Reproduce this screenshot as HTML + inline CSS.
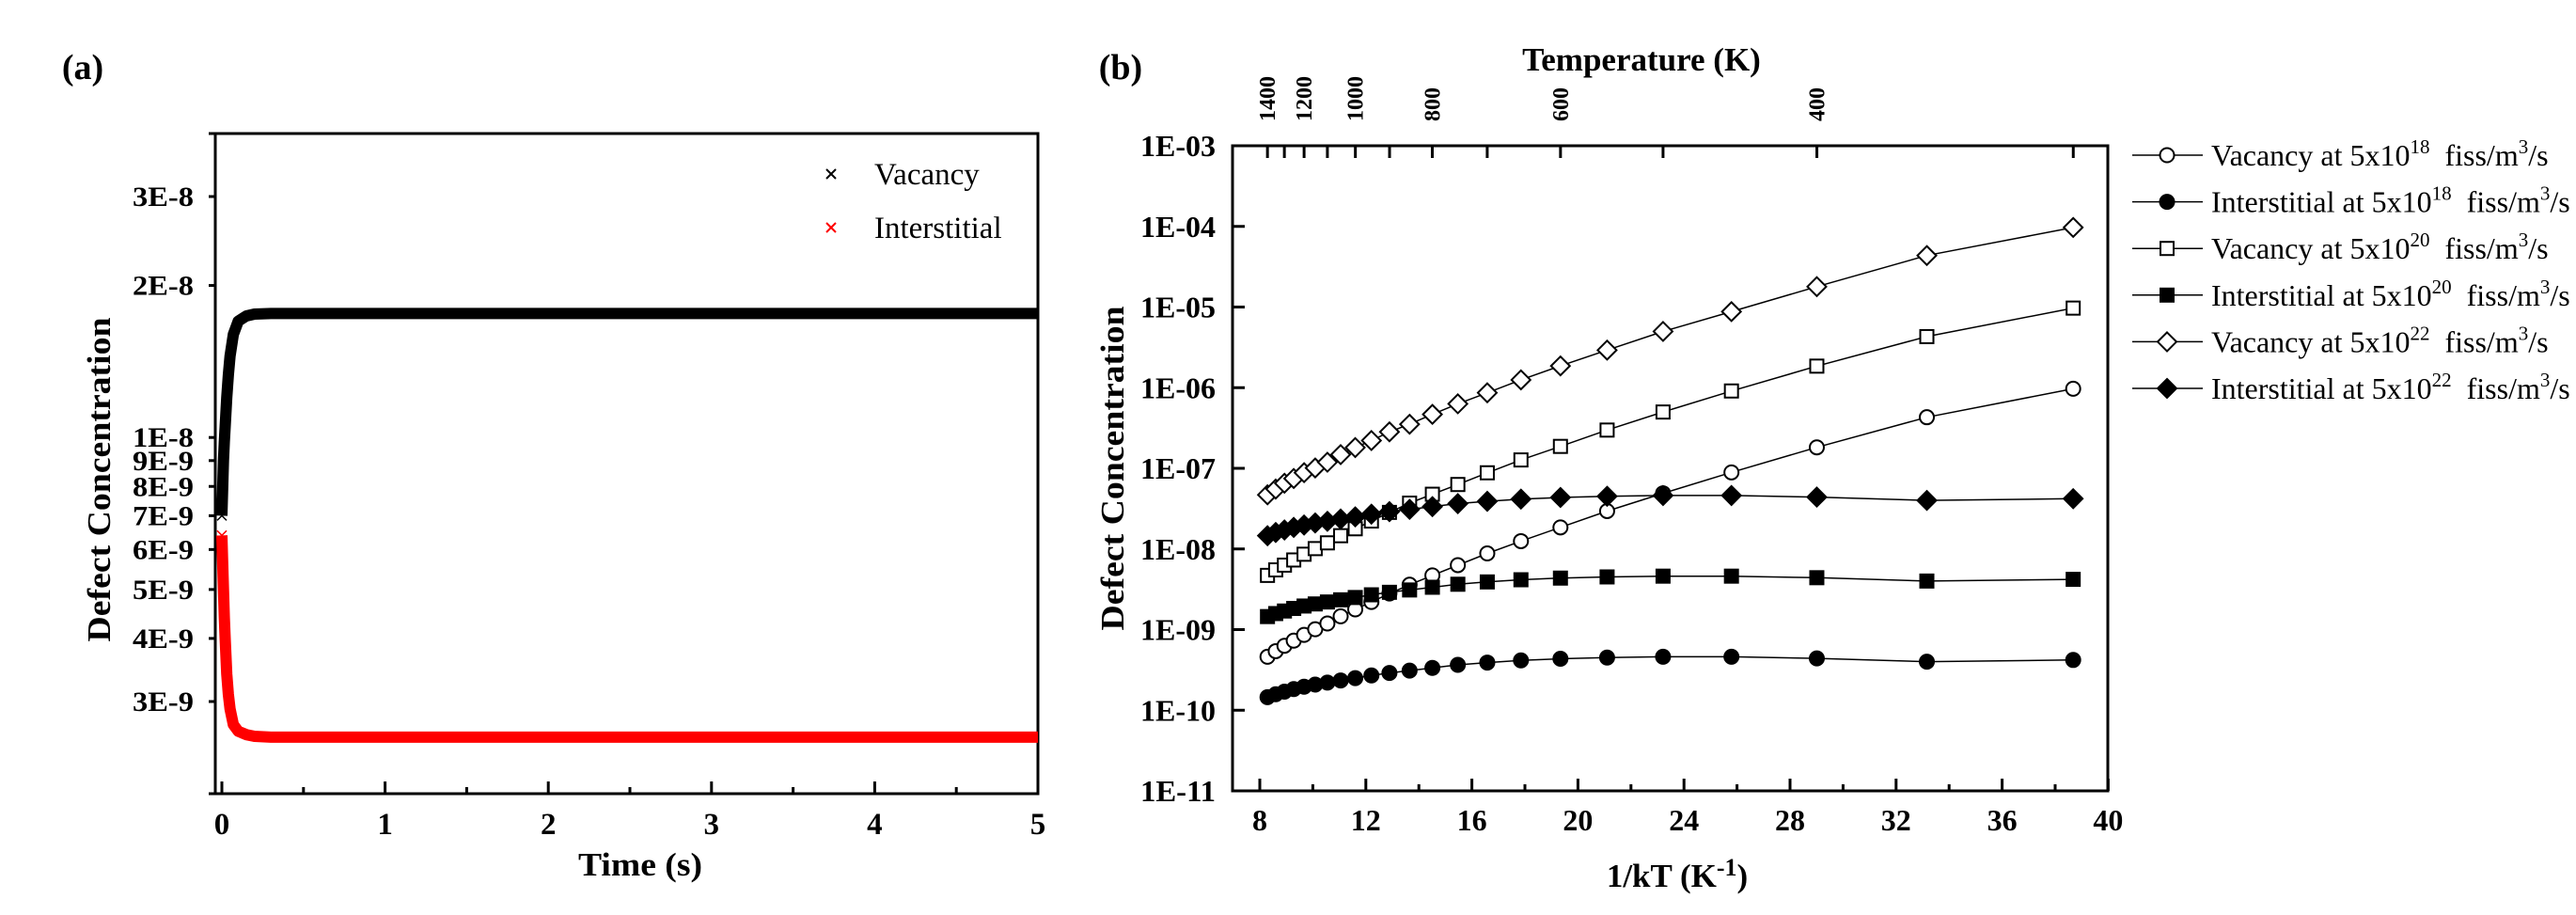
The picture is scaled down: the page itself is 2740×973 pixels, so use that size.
<!DOCTYPE html>
<html><head><meta charset="utf-8"><style>
html,body{margin:0;padding:0;background:#fff;}
svg{display:block;font-family:"Liberation Serif","Times New Roman",serif;}
.b{font-weight:bold;}
</style></head><body>
<svg id="fig" width="2740" height="973" viewBox="0 0 2740 973" xmlns="http://www.w3.org/2000/svg">
<rect x="0" y="0" width="2740" height="973" fill="#fff"/>
<g id="pa"></g>
<g id="pb"></g>
</svg>
<script>
// ---------- Panel (a) data ----------
const timeA = [0, 0.005, 0.01, 0.015, 0.02, 0.03, 0.04, 0.05, 0.07, 0.1, 0.15, 0.2, 0.3, 1, 2, 3, 4, 5];
const vacancyA = [7.0e-9, 8.0e-9, 9.0e-9, 9.8e-9, 1.05e-8, 1.2e-8, 1.33e-8, 1.45e-8, 1.6e-8, 1.7e-8, 1.74e-8, 1.755e-8, 1.76e-8, 1.76e-8, 1.76e-8, 1.76e-8, 1.76e-8, 1.76e-8];
const interstitialA = [6.4e-9, 5.6e-9, 5.0e-9, 4.4e-9, 4.0e-9, 3.4e-9, 3.1e-9, 2.9e-9, 2.7e-9, 2.62e-9, 2.58e-9, 2.56e-9, 2.55e-9, 2.55e-9, 2.55e-9, 2.55e-9, 2.55e-9, 2.55e-9];
const xTicksA = [0, 1, 2, 3, 4, 5];
const yTicksA = [3e-8, 2e-8, 1e-8, 9e-9, 8e-9, 7e-9, 6e-9, 5e-9, 4e-9, 3e-9];
const yTickLabelsA = ["3E-8", "2E-8", "1E-8", "9E-9", "8E-9", "7E-9", "6E-9", "5E-9", "4E-9", "3E-9"];

// ---------- Panel (b) data ----------
const invKT = [8.29, 8.60, 8.93, 9.28, 9.67, 10.09, 10.55, 11.05, 11.60, 12.21, 12.89, 13.65, 14.51, 15.47, 16.58, 17.85, 19.34, 21.10, 23.21, 25.79, 29.01, 33.16, 38.68];
const vac18 = [4.6e-10, 5.4e-10, 6.3e-10, 7.3e-10, 8.6e-10, 1.01e-9, 1.19e-9, 1.46e-9, 1.78e-9, 2.2e-9, 2.8e-9, 3.6e-9, 4.7e-9, 6.3e-9, 8.8e-9, 1.25e-8, 1.85e-8, 2.95e-8, 4.9e-8, 8.9e-8, 1.82e-7, 4.3e-7, 9.7e-7];
const int18 = [1.45e-10, 1.58e-10, 1.7e-10, 1.83e-10, 1.96e-10, 2.08e-10, 2.2e-10, 2.34e-10, 2.5e-10, 2.7e-10, 2.9e-10, 3.1e-10, 3.35e-10, 3.65e-10, 3.9e-10, 4.15e-10, 4.35e-10, 4.5e-10, 4.6e-10, 4.6e-10, 4.4e-10, 4.0e-10, 4.2e-10];
const vac20 = [4.7e-9, 5.5e-9, 6.3e-9, 7.3e-9, 8.6e-9, 1.01e-8, 1.19e-8, 1.46e-8, 1.78e-8, 2.22e-8, 2.84e-8, 3.7e-8, 4.77e-8, 6.3e-8, 8.8e-8, 1.27e-7, 1.87e-7, 2.98e-7, 4.99e-7, 9.1e-7, 1.85e-6, 4.3e-6, 9.7e-6];
const int20 = [1.45e-9, 1.58e-9, 1.7e-9, 1.83e-9, 1.96e-9, 2.08e-9, 2.2e-9, 2.34e-9, 2.5e-9, 2.7e-9, 2.9e-9, 3.1e-9, 3.35e-9, 3.65e-9, 3.9e-9, 4.15e-9, 4.35e-9, 4.5e-9, 4.6e-9, 4.6e-9, 4.4e-9, 4.0e-9, 4.2e-9];
const vac22 = [4.69e-8, 5.53e-8, 6.53e-8, 7.48e-8, 8.83e-8, 1.01e-7, 1.19e-7, 1.48e-7, 1.81e-7, 2.21e-7, 2.83e-7, 3.52e-7, 4.67e-7, 6.31e-7, 8.65e-7, 1.25e-6, 1.86e-6, 2.92e-6, 4.98e-6, 8.77e-6, 1.79e-5, 4.35e-5, 9.7e-5];
const int22 = [1.46e-8, 1.6e-8, 1.72e-8, 1.85e-8, 1.98e-8, 2.1e-8, 2.2e-8, 2.35e-8, 2.5e-8, 2.7e-8, 2.9e-8, 3.1e-8, 3.35e-8, 3.65e-8, 3.9e-8, 4.15e-8, 4.35e-8, 4.5e-8, 4.6e-8, 4.6e-8, 4.4e-8, 4.0e-8, 4.2e-8];
const xTicksB = [8, 12, 16, 20, 24, 28, 32, 36, 40];
const yTicksB = [1e-3, 1e-4, 1e-5, 1e-6, 1e-7, 1e-8, 1e-9, 1e-10, 1e-11];
const yTickLabelsB = ["1E-03", "1E-04", "1E-05", "1E-06", "1E-07", "1E-08", "1E-09", "1E-10", "1E-11"];
const tempMajor = [1400, 1200, 1000, 800, 600, 400];
const tempMinor = [1300, 1100, 900, 700, 500, 300];
const legendLabels = ["Vacancy at 5x10", "Interstitial at 5x10", "Vacancy at 5x10", "Interstitial at 5x10", "Vacancy at 5x10", "Interstitial at 5x10"];
const legendExp = ["18", "18", "20", "20", "22", "22"];

const NS = "http://www.w3.org/2000/svg";
function mk(parent, tag, attrs, text) {
  const e = document.createElementNS(NS, tag);
  for (const k in attrs) e.setAttribute(k, attrs[k]);
  if (text !== undefined) e.textContent = text;
  parent.appendChild(e);
  return e;
}

// ================= Panel A =================
const pa = document.getElementById('pa');
const A = {l: 229, r: 1104, t: 142, b: 844};
const xA = t => 236 + (t - 0) * (1104 - 236) / 5;
const yA = v => 209 + 537 * (Math.log10(3e-8) - Math.log10(v));

let e;
e = mk(pa, 'text', {x: 88, y: 84, 'font-size': 38, 'text-anchor': 'middle', class: 'b'}, '(a)');



e = mk(pa, 'path', {d: `M${A.l},${A.t}H${A.r}V${A.b}H${A.l}Z`, fill: 'none', stroke: '#000', 'stroke-width': 3});


mk(pa, 'line', {x1: A.l - 7, y1: A.t, x2: A.l, y2: A.t, stroke: '#000', 'stroke-width': 3});
mk(pa, 'line', {x1: A.l - 7, y1: A.b, x2: A.l, y2: A.b, stroke: '#000', 'stroke-width': 3});

xTicksA.forEach(t => {
  const x = xA(t);
  e = mk(pa, 'line', {x1: x, y1: A.b, x2: x, y2: A.b - 13, stroke: '#000', 'stroke-width': 3});
  
  
  e = mk(pa, 'text', {x: x, y: 887, 'font-size': 33, 'text-anchor': 'middle', class: 'b'}, String(t));
  
  
  if (t < 5) {
    const xm = xA(t + 0.5);
    mk(pa, 'line', {x1: xm, y1: A.b, x2: xm, y2: A.b - 7, stroke: '#000', 'stroke-width': 3});
  }
});
yTicksA.forEach((v, i) => {
  const y = yA(v);
  e = mk(pa, 'line', {x1: A.l - 7, y1: y, x2: A.l, y2: y, stroke: '#000', 'stroke-width': 3});
  
  
  e = mk(pa, 'text', {x: 206, y: y + 10, 'font-size': 30, 'text-anchor': 'end', class: 'b', textLength: 65, lengthAdjust: 'spacingAndGlyphs'}, yTickLabelsA[i]);
  
  
});
e = mk(pa, 'text', {x: 0, y: 0, 'font-size': 35, 'text-anchor': 'middle', class: 'b', transform: 'translate(117,510) rotate(-90)', textLength: 345, lengthAdjust: 'spacingAndGlyphs'}, 'Defect Concentration');


e = mk(pa, 'text', {x: 681, y: 931, 'font-size': 35, 'text-anchor': 'middle', class: 'b', textLength: 132, lengthAdjust: 'spacingAndGlyphs'}, 'Time (s)');



function bandSeries(times, vals, color, name) {
  const pts = times.map((t, i) => `${xA(t).toFixed(1)},${yA(vals[i]).toFixed(1)}`).join(' ');
  const g = mk(pa, 'g', {});
  
  
  mk(g, 'polyline', {points: pts, fill: 'none', stroke: color, 'stroke-width': 12, 'stroke-linejoin': 'round', 'stroke-linecap': 'butt'});
  for (let i = 0; i < times.length; i++) {
    if (times[i] > 0.03) break;
    const x = xA(times[i]), y = yA(vals[i]);
    const m = mk(g, 'path', {d: `M${x-5},${y-5}L${x+5},${y+5}M${x-5},${y+5}L${x+5},${y-5}`, stroke: color, 'stroke-width': 1.5});
    
    
  }
}
bandSeries(timeA, vacancyA, '#000', 'vacancy-series-a');
bandSeries(timeA, interstitialA, '#ff0000', 'interstitial-series-a');

[['Vacancy', '#000', 185], ['Interstitial', '#ff0000', 242]].forEach(([lab, col, y]) => {
  const g = mk(pa, 'g', {});
  
  
  mk(g, 'path', {d: `M${884-5},${y-5}L${884+5},${y+5}M${884-5},${y+5}L${884+5},${y-5}`, stroke: col, 'stroke-width': 2});
  mk(g, 'text', {x: 930, y: y + 11, 'font-size': 33}, lab);
});

// ================= Panel B =================
const pb = document.getElementById('pb');
const B = {l: 1311, r: 2242, t: 155, b: 841};
const xB = v => 1340 + (v - 8) * 28.2;
const yB = v => 155 + (-3 - Math.log10(v)) * 85.75;

e = mk(pb, 'text', {x: 1192, y: 84, 'font-size': 38, 'text-anchor': 'middle', class: 'b'}, '(b)');


e = mk(pb, 'path', {d: `M${B.l},${B.t}H${B.r}V${B.b}H${B.l}Z`, fill: 'none', stroke: '#000', 'stroke-width': 3});



xTicksB.forEach(v => {
  const x = xB(v);
  e = mk(pb, 'line', {x1: x, y1: B.b, x2: x, y2: B.b - 13, stroke: '#000', 'stroke-width': 3});
  
  
  e = mk(pb, 'text', {x: x, y: 883, 'font-size': 32, 'text-anchor': 'middle', class: 'b'}, String(v));
  
  
  if (v < 40) {
    const xm = xB(v + 2);
    mk(pb, 'line', {x1: xm, y1: B.b, x2: xm, y2: B.b - 7, stroke: '#000', 'stroke-width': 3});
  }
});
yTicksB.forEach((v, i) => {
  const y = yB(v);
  e = mk(pb, 'line', {x1: B.l, y1: y, x2: B.l + 13, y2: y, stroke: '#000', 'stroke-width': 3});
  
  
  e = mk(pb, 'text', {x: 1293, y: y + 11, 'font-size': 32, 'text-anchor': 'end', class: 'b', textLength: 80, lengthAdjust: 'spacingAndGlyphs'}, yTickLabelsB[i]);
  
  
});
const kB = 8.617e-5;
tempMajor.concat(tempMinor).forEach((T, i) => {
  const x = xB(1 / (kB * T));
  e = mk(pb, 'line', {x1: x, y1: B.t, x2: x, y2: B.t + 13, stroke: '#000', 'stroke-width': 3});
  
  
  if (i < tempMajor.length) {
    e = mk(pb, 'text', {x: 0, y: 0, 'font-size': 24, class: 'b', transform: `translate(${x + 8},129) rotate(-90)`}, String(T));
    
    
  }
});
e = mk(pb, 'text', {x: 1746, y: 75, 'font-size': 35, 'text-anchor': 'middle', class: 'b'}, 'Temperature (K)');


e = mk(pb, 'text', {x: 0, y: 0, 'font-size': 35, 'text-anchor': 'middle', class: 'b', transform: 'translate(1195,498) rotate(-90)', textLength: 345, lengthAdjust: 'spacingAndGlyphs'}, 'Defect Concentration');


e = mk(pb, 'text', {x: 1784, y: 943, 'font-size': 35, 'text-anchor': 'middle', class: 'b'});


mk(e, 'tspan', {}, '1/kT (K');
mk(e, 'tspan', {dy: -12, 'font-size': 26}, '-1');
mk(e, 'tspan', {dy: 12}, ')');

function marker(g, type, x, y) {
  let m;
  if (type === 'oc' || type === 'fc') m = mk(g, 'circle', {cx: x, cy: y, r: 7.5});
  else if (type === 'os' || type === 'fs') m = mk(g, 'rect', {x: x - 7, y: y - 7, width: 14, height: 14});
  else m = mk(g, 'path', {d: `M${x},${y-10}L${x+10},${y}L${x},${y+10}L${x-10},${y}Z`});
  const filled = type[0] === 'f';
  m.setAttribute('fill', filled ? '#000' : '#fff');
  m.setAttribute('stroke', '#000');
  m.setAttribute('stroke-width', 2);
  return m;
}
const seriesB = [
  [vac18, 'oc', 'vacancy-5e18-series'],
  [int18, 'fc', 'interstitial-5e18-series'],
  [vac20, 'os', 'vacancy-5e20-series'],
  [int20, 'fs', 'interstitial-5e20-series'],
  [vac22, 'od', 'vacancy-5e22-series'],
  [int22, 'fd', 'interstitial-5e22-series']
];
seriesB.forEach(([vals, type, name]) => {
  const g = mk(pb, 'g', {});
  
  
  mk(g, 'polyline', {points: invKT.map((x, i) => `${xB(x).toFixed(1)},${yB(vals[i]).toFixed(1)}`).join(' '), fill: 'none', stroke: '#000', 'stroke-width': 1.5});
});
seriesB.forEach(([vals, type, name]) => {
  const g = mk(pb, 'g', {});
  
  
  invKT.forEach((x, i) => {
    const m = marker(g, type, xB(x), yB(vals[i]));
    
    
  });
});
seriesB.forEach(([vals, type, name], i) => {
  const y = 165 + i * 49.6;
  const g = mk(pb, 'g', {});
  
  
  mk(g, 'line', {x1: 2268, y1: y, x2: 2343, y2: y, stroke: '#000', 'stroke-width': 1.5});
  marker(g, type, 2305, y);
  const t = mk(g, 'text', {x: 2352, y: y + 11, 'font-size': 32});
  mk(t, 'tspan', {}, legendLabels[i]);
  mk(t, 'tspan', {dy: -13, 'font-size': 21}, legendExp[i]);
  mk(t, 'tspan', {dy: 13}, '\u00a0 fiss/m');
  mk(t, 'tspan', {dy: -13, 'font-size': 21}, '3');
  mk(t, 'tspan', {dy: 13}, '/s');
});
</script>
</body></html>
